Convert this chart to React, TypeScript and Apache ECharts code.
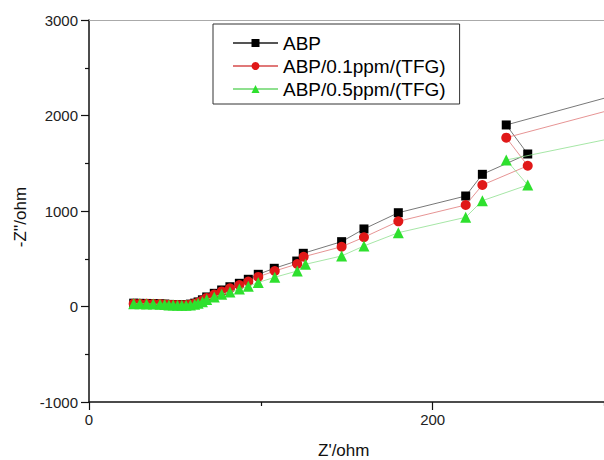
import React, { useEffect, useRef } from "react";
import * as echarts from "echarts";

const seriesNames = ["ABP", "ABP/0.1ppm/(TFG)", "ABP/0.5ppm/(TFG)"];

const xTickLabels = ["0", "200"];
const yTickLabels = ["-1000", "0", "1000", "2000", "3000"];

const abpX = [26, 29.6, 33.5, 37.4, 41.3, 44, 46.5, 49, 51.5, 54, 56.5, 59, 61.5, 63.5, 66, 68.5, 72.9, 77.2, 82, 87.5, 92.7, 98.5, 107.8, 120.9, 124.7, 147, 160, 180, 219.2, 228.9, 255.3, 242.8, 320];
const abpY = [35, 33, 32, 30, 28, 25, 22, 20, 18, 17, 19, 25, 35, 48, 70, 100, 138, 173, 207, 243, 285, 337, 400, 476, 557, 679, 812, 982, 1157, 1384, 1597, 1901, 2280];

const tfg01X = [26, 29.6, 33.5, 37.4, 41.3, 44, 46.5, 49, 51.5, 54, 56.5, 59, 61.5, 63.5, 66, 68.5, 72.9, 77.2, 82, 87.5, 92.7, 98.5, 108.1, 121.2, 124.9, 147, 160, 180, 219.2, 228.9, 255.3, 242.8, 320];
const tfg01Y = [30, 29, 28, 27, 25, 22, 19, 17, 15, 14, 16, 21, 30, 42, 62, 90, 125, 158, 190, 224, 262, 310, 372, 445, 521, 626, 725, 892, 1063, 1272, 1474, 1768, 2137];

const tfg05X = [26, 29.6, 33.5, 37.4, 41.3, 44, 46.5, 49, 51.5, 54, 56.5, 59, 61.5, 63.5, 66, 68.5, 72.9, 77.2, 82, 87.5, 92.7, 98.5, 108.1, 121.2, 126, 147, 160, 180, 219.2, 228.9, 255.3, 242.8, 320];
const tfg05Y = [28, 28, 27, 25, 23, 20, 17, 15, 13, 12, 13, 17, 24, 34, 50, 72, 100, 127, 153, 182, 212, 252, 306, 372, 442, 529, 634, 773, 934, 1108, 1272, 1534, 1819];

const zip = (xs: number[], ys: number[]) => xs.map((x, i) => [x, ys[i]]);

const FONT = "Arial, 'Liberation Sans', Helvetica, sans-serif";

export default function App() {
  const ref = useRef<HTMLDivElement>(null);
  useEffect(() => {
    if (!ref.current) return;
    const chart = echarts.init(ref.current, null, { renderer: "svg" });
    const option: any = {
      animation: false,
      backgroundColor: "#fff",
      textStyle: { fontFamily: FONT },
      grid: {
        left: 89,
        top: 20,
        width: 687.4,
        height: 382,
        containLabel: false,
        outerBoundsMode: "none",
      },
      legend: {
        data: seriesNames,
        orient: "vertical",
        left: 213,
        top: 24,
        padding: [9, 14, 5, 19],
        itemWidth: 45,
        itemHeight: 10,
        itemGap: 3,
        borderColor: "#333",
        borderWidth: 1,
        backgroundColor: "#fff",
        textStyle: { fontSize: 19, lineHeight: 20, color: "#000", fontFamily: FONT },
      },
      xAxis: [
        {
          type: "value",
          min: 0,
          max: 400,
          interval: 200,
          axisLine: { show: true, onZero: false, lineStyle: { color: "#111", width: 1.5 } },
          axisTick: { show: true, length: 8, lineStyle: { color: "#111", width: 1.2 } },
          minorTick: { show: true, splitNumber: 2, length: 4, lineStyle: { color: "#111", width: 1.2 } },
          splitLine: { show: false },
          axisLabel: {
            margin: 10,
            fontSize: 15,
            color: "#222",
            fontFamily: FONT,
            formatter: (v: number) => (xTickLabels.includes(String(v)) ? String(v) : ""),
          },
        },
        {
          type: "value",
          position: "top",
          min: 0,
          max: 400,
          axisLine: { show: true, onZero: false, lineStyle: { color: "#aaa", width: 1 } },
          axisTick: { show: false },
          axisLabel: { show: false },
          splitLine: { show: false },
        },
      ],
      yAxis: {
        type: "value",
        min: -1000,
        max: 3000,
        interval: 1000,
        name: "-Z''/ohm",
        nameLocation: "middle",
        nameGap: 58,
        nameTextStyle: { fontSize: 17, color: "#111", fontFamily: FONT, padding: [0, 12, 0, 0] },
        axisLine: { show: true, onZero: false, lineStyle: { color: "#111", width: 1.5 } },
        axisTick: { show: true, length: 8, lineStyle: { color: "#111", width: 1.2 } },
        minorTick: { show: true, splitNumber: 2, length: 4, lineStyle: { color: "#111", width: 1.2 } },
        splitLine: { show: false },
        axisLabel: {
          margin: 11,
          fontSize: 15,
          color: "#222",
          fontFamily: FONT,
          formatter: (v: number) => (yTickLabels.includes(String(v)) ? String(v) : ""),
        },
      },
      graphic: [
        {
          type: "text",
          left: 318,
          top: 442,
          style: { text: "Z'/ohm", fontSize: 17, fill: "#111", fontFamily: FONT },
        },
      ],
      series: [
        {
          name: seriesNames[0],
          type: "line",
          data: zip(abpX, abpY),
          symbol: "rect",
          symbolSize: 9,
          itemStyle: { color: "#000" },
          lineStyle: { color: "#555", width: 0.8 },
          z: 2,
        },
        {
          name: seriesNames[1],
          type: "line",
          data: zip(tfg01X, tfg01Y),
          symbol: "circle",
          symbolSize: 10,
          itemStyle: { color: "#e01818" },
          lineStyle: { color: "#e07878", width: 0.8 },
          z: 3,
        },
        {
          name: seriesNames[2],
          type: "line",
          data: zip(tfg05X, tfg05Y),
          symbol: "triangle",
          symbolSize: 11,
          itemStyle: { color: "#2ee02e" },
          lineStyle: { color: "#8fe08f", width: 0.8 },
          z: 4,
        },
      ],
    };
    chart.setOption(option);
    return () => chart.dispose();
  }, []);
  return (
    <div
      ref={ref}
      style={{ position: "fixed", left: 0, top: 0, width: 604, height: 460 }}
    />
  );
}
